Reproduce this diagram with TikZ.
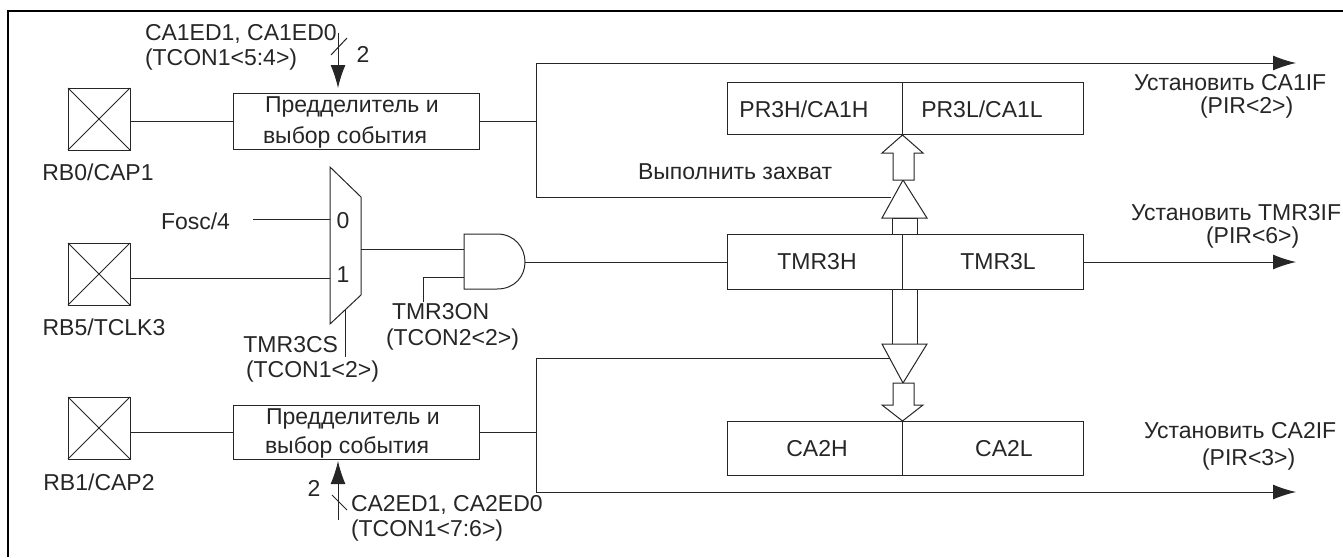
\documentclass[tikz,border=0pt]{standalone}
\usepackage{fontspec}
\setmainfont{Liberation Sans}
\usetikzlibrary{arrows.meta}
\tikzset{
  x=1pt,y=-1pt,
  every node/.style={font=\fontsize{23}{27}\selectfont,inner sep=0pt,outer sep=0pt,text=black!85},
  wire/.style={draw=black!85,line width=1pt},
  sig/.style={wire,-{Latex[length=23pt,width=15pt]}},
  frameline/.style={draw=black,line width=2.4pt},
  pin/.style={draw=black!85,line width=1pt,minimum size=62pt},
  blockbox/.style={draw=black!85,line width=1pt,minimum width=246pt,anchor=north west},
  regcell/.style={draw=black!85,line width=1pt,anchor=north west},
  openarrow/.style={draw=black!85,line width=1pt,fill=white},
  lbl/.style={anchor=west},
}
\begin{document}
\begin{tikzpicture}
\useasboundingbox (0,0) rectangle (1343,557);
% frame
\coordinate (fa) at (8,557); \coordinate (fb) at (8,11); \coordinate (fc) at (1343,11);
\draw[frameline] (fa) -- (fb) -- (fc);

% pins
\node[pin] (p1) at (99,119) {};
\node[pin] (p2) at (99,274) {};
\node[pin] (p3) at (99,428) {};
\foreach \p in {p1,p2,p3}{
  \draw[wire] (\p.north west) -- (\p.south east);
  \draw[wire] (\p.north east) -- (\p.south west);
}
\node (lp1) at (98,172) {RB0/CAP1};
\node (lp2) at (104,327) {RB5/TCLK3};
\node (lp3) at (99,482) {RB1/CAP2};

% prescaler blocks
\node[blockbox,minimum height=56pt] (b1) at (233,93) {};
\node[blockbox,minimum height=54pt] (b2) at (233,405) {};
\node[lbl] at (265,107) {Предделитель и};
\node[lbl] at (263,137) {выбор события};
\node[lbl] at (266,419) {Предделитель и};
\node[lbl] at (265,447) {выбор события};

% registers
\node[regcell,minimum width=175pt,minimum height=52pt] (r1h) at (727,82) {};
\node[regcell,minimum width=181pt,minimum height=52pt] (r1l) at (902,82) {};
\node[regcell,minimum width=175pt,minimum height=55pt] (r2h) at (727,234) {};
\node[regcell,minimum width=181pt,minimum height=55pt] (r2l) at (902,234) {};
\node[regcell,minimum width=175pt,minimum height=54pt] (r3h) at (727,421) {};
\node[regcell,minimum width=181pt,minimum height=54pt] (r3l) at (902,421) {};
\node at (804,109) {PR3H/CA1H};
\node at (982,109) {PR3L/CA1L};
\node at (817,262) {TMR3H};
\node at (998,262) {TMR3L};
\node at (817,449) {CA2H};
\node at (1004,449) {CA2L};

% top-left control
\node[lbl] at (145,34) {CA1ED1, CA1ED0};
\node[lbl] at (145,60) {(TCON1<5:4>)};
\coordinate (c1) at (338,33);
\draw[sig] (c1) -- (338,88);
\coordinate (t1a) at (331,55); \coordinate (t1b) at (347,38);
\draw[wire] (t1a) -- (t1b);
\node at (363,54) {2};

% bottom control
\node[lbl] at (351,505) {CA2ED1, CA2ED0};
\node[lbl] at (351,531) {(TCON1<7:6>)};
\coordinate (c2) at (338,520);
\draw[sig] (c2) -- (338,461);
\coordinate (t2a) at (332,495); \coordinate (t2b) at (347,510);
\draw[wire] (t2a) -- (t2b);
\node at (314,488) {2};

% mux
\coordinate (m1) at (330,167); \coordinate (m2) at (361,197);
\coordinate (m3) at (361,295); \coordinate (m4) at (330,324);
\draw[wire] (m1) -- (m2) -- (m3) -- (m4) -- cycle;
\node at (343,221) {0};
\node at (343,275) {1};
\node[lbl] (fosc) at (161,221) {Fosc/4};
\coordinate (fe) at (253,219);
\coordinate (mi0) at (330,219);
\coordinate (mi1) at (330,278);
\coordinate (mo) at (361,249);
\draw[wire] (fe) -- (mi0);
\draw[wire] (p2.east |- mi1) -- (mi1);
\coordinate (ms1) at (345,310); \coordinate (ms2) at (345,357);
\draw[wire] (ms1) -- (ms2);
\node[anchor=east] at (338,345) {TMR3CS};
\node[lbl] at (246,372) {(TCON1<2>)};

% AND gate
\coordinate (g1) at (464,234); \coordinate (g2) at (464,289);
\coordinate (gi1) at (464,249); \coordinate (gi2) at (464,277);
\coordinate (gout) at (525,262);
\draw[wire] (g1) -- (497,234) .. controls (515,234) and (525,248) .. (gout)
   .. controls (525,276) and (515,289) .. (497,289) -- (g2) -- cycle;
\draw[wire] (mo) -- (gi1);
\coordinate (ten) at (423,302);
\draw[wire] (ten) |- (gi2);
\node[lbl] at (392,312) {TMR3ON};
\node[lbl] at (386,340) {(TCON2<2>)};
\draw[wire] (gout) -- (r2h.west |- gout);

% bus arrows and gates
\draw[openarrow] (892,234) -- (892,218) -- (917,218) -- (917,234);
\draw[openarrow] (903,180) -- (882,218) -- (927,218) -- cycle;
\draw[openarrow] (902.5,135) -- (923,153) -- (914,153) -- (914,180) -- (893,180) -- (893,153) -- (882,153) -- cycle;
\draw[openarrow] (892,289) -- (892,344) -- (917,344) -- (917,289) -- cycle;
\draw[openarrow] (903,383) -- (882,344) -- (927,344) -- cycle;
\draw[openarrow] (893,383) -- (893,405) -- (882,405) -- (902.5,421) -- (923,405) -- (914,405) -- (914,383) -- cycle;

% right-hand bus wiring
\coordinate (v1t) at (536,63); \coordinate (v1b) at (536,197);
\coordinate (v2t) at (536,358); \coordinate (v2b) at (536,492);
\coordinate (tg1) at (891,197); \coordinate (tg2) at (890,358);
\coordinate (e1) at (1296,63); \coordinate (e2) at (1296,262); \coordinate (e3) at (1296,492);
\draw[wire] (p1.east |- b1.west) -- (b1.west);
\draw[wire] (p3.east |- b2.west) -- (b2.west);
\draw[wire] (b1.east) -- (b1.east -| v1t);
\draw[wire] (b2.east) -- (b2.east -| v2t);
\draw[wire] (tg1) -- (v1b) -- (v1t);
\draw[sig] (v1t) -- (e1);
\draw[wire] (tg2) -- (v2t) -- (v2b);
\draw[sig] (v2b) -- (e3);
\draw[sig] (r2l.east |- e2) -- (e2);

\node[lbl] at (638,172) {Выполнить захват};
\node[lbl] at (1134,83) {Установить CA1IF};
\node[lbl] at (1200,108) {(PIR<2>)};
\node[lbl] at (1131,213) {Установить TMR3IF};
\node[lbl] at (1206,238) {(PIR<6>)};
\node[lbl] at (1144,431) {Установить CA2IF};
\node[lbl] at (1202,460) {(PIR<3>)};
\end{tikzpicture}
\end{document}
